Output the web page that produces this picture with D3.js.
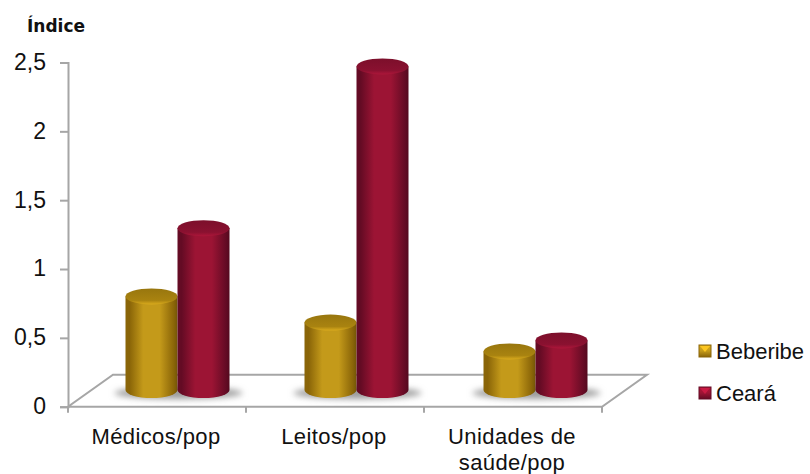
<!DOCTYPE html>
<html><head><meta charset="utf-8">
<script src="https://cdn.jsdelivr.net/npm/d3@7/dist/d3.min.js"></script>
<style>html,body{margin:0;background:#fff}svg{display:block}text{font-family:"Liberation Sans",sans-serif;fill:#111}</style>
</head><body><svg id="c" width="810" height="474"></svg>
<script>
const categories=["Médicos/pop","Leitos/pop","Unidades de saúde/pop"];
const seriesNames=["Beberibe","Ceará"];
const beberibe=[0.68,0.49,0.28];
const ceara=[1.175,2.35,0.36];
const yTicks=[0,0.5,1,1.5,2,2.5];
const palette=[{e:"#8a6508",m:"#c49a1a",t:"#a98310"},{e:"#640b24",m:"#9c1434",t:"#8a1130"}];

const svg=d3.select("#c");
const defs=svg.append("defs");
palette.forEach((p,i)=>{
  const g=defs.append("linearGradient").attr("id","body"+i);
  [[0,p.e],[.08,p.e],[.34,p.m],[.66,p.m],[.93,p.e],[1,d3.color(p.e).darker(.5)]].forEach(s=>g.append("stop").attr("offset",s[0]).attr("stop-color",s[1]));
  const t=defs.append("linearGradient").attr("id","top"+i).attr("x1",0).attr("x2",0).attr("y1",0).attr("y2",1);
  [[0,d3.color(p.t).darker(.3)],[.75,p.t],[1,d3.color(p.m).brighter(.3)]].forEach(s=>t.append("stop").attr("offset",s[0]).attr("stop-color",s[1]));
  const l=defs.append("linearGradient").attr("id","leg"+i).attr("x1",0).attr("x2",0).attr("y1",0).attr("y2",1);
  [[0,d3.color(p.m).brighter(.3)],[.5,p.m],[1,p.e]].forEach(s=>l.append("stop").attr("offset",s[0]).attr("stop-color",s[1]));
});
defs.append("filter").attr("id","blur").attr("x","-20%").attr("y","-60%").attr("width","140%").attr("height","220%")
  .append("feGaussianBlur").attr("stdDeviation",3);

const y=d3.scaleLinear().domain([0,2.5]).range([406.7,62.5]);
const x=d3.scaleBand().domain(categories).range([68,602]);
const xBars=d3.scaleBand().domain(categories).range([66,603]);
const gray="#a6a6a6";
const depthX=45,depthY=32;
const x0=x.range()[0],x1=x.range()[1],y0=y(0);
svg.append("path").attr("fill","#fff").attr("stroke",gray).attr("stroke-width",2)
  .attr("d",`M${x0},${y0}L${x1},${y0}L${x1+depthX},${y0-depthY}L${x0+depthX},${y0-depthY}Z`);
const yAxis=d3.axisLeft(y).tickValues(yTicks).tickSize(8).tickPadding(6).tickFormat(d=>String(d).replace(".",","));
const ga=svg.append("g").attr("transform",`translate(${x0},0)`).call(yAxis);
ga.selectAll("path,line").attr("stroke",gray).attr("stroke-width",2);
ga.selectAll("text").style("font-size","23px").attr("fill","#111").attr("dy","0.3em").attr("dx","-8");
svg.append("g").selectAll("line").data(categories.map(c=>x(c)).concat([x1])).join("line")
  .attr("x1",d=>d).attr("x2",d=>d).attr("y1",y0).attr("y2",y0+6).attr("stroke",gray).attr("stroke-width",2);
const lines={"Unidades de saúde/pop":["Unidades de","saúde/pop"]};
categories.forEach(c=>{
  const ls=lines[c]||[c];
  const cx=x(c)+x.bandwidth()/2-1;
  ls.forEach((s,i)=>svg.append("text").attr("text-anchor","middle").attr("x",cx).attr("y",444+i*26).style("font-size","22px").style("letter-spacing","0.4px").text(s));
});
svg.append("text").attr("x",27).attr("y",32).style("font-family","DejaVu Sans").style("font-size","17px").style("font-weight","700").text("Índice");
const inner=d3.scaleBand().domain([0,1]).range([-52,52]);
const ry=8, floorOff=16.7, shift=22;
const rows=categories.map((c,i)=>[beberibe[i],ceara[i]]);
const groups=svg.append("g").selectAll("g").data(rows).join("g")
  .attr("transform",(d,i)=>`translate(${xBars(categories[i])+xBars.bandwidth()/2+shift},${-floorOff})`);
groups.each(function(){
  d3.select(this).append("ellipse").attr("cx",1).attr("cy",y0+3).attr("rx",64).attr("ry",6)
    .attr("fill","#9a9a9a").attr("filter","url(#blur)");
});
groups.selectAll("g.b").data(d=>d.map((v,s)=>({v,s}))).join("g").attr("class","b").each(function(d){
  const g=d3.select(this),l=inner(d.s),w=inner.bandwidth(),r=w/2,yt=y(d.v),yb=y(0);
  g.append("path").attr("fill",`url(#body${d.s})`)
    .attr("d",`M${l},${yt}L${l},${yb}A${r},${ry} 0 0 0 ${l+w},${yb}L${l+w},${yt}Z`);
  g.append("ellipse").attr("cx",l+r).attr("cy",yt).attr("rx",r).attr("ry",ry).attr("fill",`url(#top${d.s})`);
});
seriesNames.forEach((n,i)=>{
  const yy=351+i*42;
  const g=svg.append("g");
  g.append("rect").attr("x",699).attr("y",yy-6).attr("width",12).attr("height",12).attr("fill",`url(#leg${i})`).attr("stroke",palette[i].e).attr("stroke-width",1);
  g.append("path").attr("d",`M700,${yy-5}L710,${yy-5}L705,${yy+1}Z`).attr("fill",d3.color(palette[i].m).brighter(.7));
  g.append("text").attr("x",716).attr("y",yy+8).style("font-size","22px").text(n);
});
</script></body></html>
